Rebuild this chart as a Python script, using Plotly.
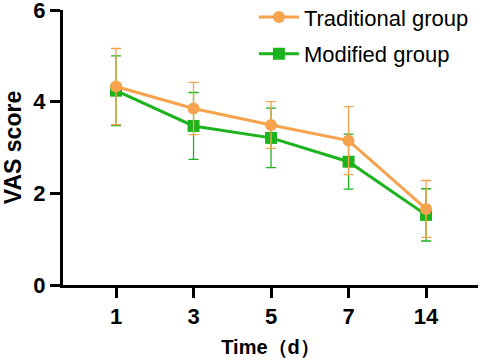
import plotly.graph_objects as go

days = ["1", "3", "5", "7", "14"]
trad_mean = [4.33, 3.85, 3.49, 3.15, 1.66]
trad_sd = [0.83, 0.57, 0.51, 0.74, 0.62]
mod_mean = [4.24, 3.47, 3.21, 2.69, 1.53]
mod_sd = [0.76, 0.73, 0.65, 0.60, 0.57]

ORANGE = "#F7A24C"
GREEN = "#1DB31D"
FONT = "Arial, Liberation Sans, sans-serif"

fig = go.Figure()
fig.add_trace(go.Scatter(
    x=days, y=mod_mean, name="Modified group", mode="lines+markers",
    line=dict(color=GREEN, width=3),
    marker=dict(symbol="square", size=12, color=GREEN),
    error_y=dict(type="data", array=mod_sd, visible=True, color=GREEN, thickness=1.3, width=5),
    legendrank=2, legendgroup="b",
))
fig.add_trace(go.Scatter(
    x=days, y=trad_mean, name="Traditional group", mode="lines+markers",
    line=dict(color=ORANGE, width=3),
    marker=dict(symbol="circle", size=12, color=ORANGE),
    error_y=dict(type="data", array=trad_sd, visible=True, color=ORANGE, thickness=1.3, width=5),
    legendrank=1, legendgroup="a",
))

fig.update_layout(
    width=484, height=361,
    margin=dict(l=63, r=6, t=10, b=76, autoexpand=False),
    plot_bgcolor="white", paper_bgcolor="white",
    font=dict(family=FONT, color="black"),
    showlegend=True,
    legend=dict(x=0.46, y=1.05, xanchor="left", yanchor="top",
                font=dict(size=22, family=FONT, color="black"),
                bgcolor="rgba(0,0,0,0)", traceorder="grouped", tracegroupgap=5,
                itemwidth=40),
    xaxis=dict(
        type="category", range=[-0.684, 4.67], automargin=False,
        showline=True, linecolor="black", linewidth=3,
        ticks="outside", ticklen=10, tickwidth=3, tickcolor="black",
        tickfont=dict(size=22, family=FONT, color="black", weight="bold"),
        showgrid=False, zeroline=False, ticklabeloverflow="allow",
        title=dict(text="Time（d）", font=dict(size=20, family=FONT, color="black", weight="bold"), standoff=12),
    ),
    yaxis=dict(
        range=[0, 6], tickvals=[0, 2, 4, 6], automargin=False,
        showline=True, linecolor="black", linewidth=3,
        ticks="outside", ticklen=10, tickwidth=3, tickcolor="black",
        tickfont=dict(size=22, family=FONT, color="black", weight="bold"),
        showgrid=False, zeroline=False, ticklabeloverflow="allow",
        title=dict(text="VAS score", font=dict(size=23, family=FONT, color="black", weight="bold"), standoff=10),
    ),
)

fig.write_html("out.html", config={"displayModeBar": False},
               post_script="document.body.style.margin='0px';")
